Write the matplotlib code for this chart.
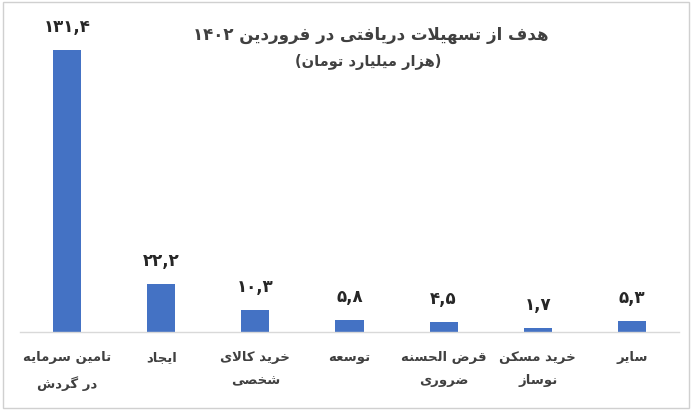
import matplotlib
matplotlib.use("Agg")
import matplotlib.pyplot as plt
from matplotlib.patches import Rectangle

# ---------------- data ----------------
title = "هدف از تسهیلات دریافتی در فروردین ۱۴۰۲"
subtitle = "(هزار میلیارد تومان)"
categories = ["تامین سرمایه\nدر گردش", "ایجاد", "خرید کالای\nشخصی", "توسعه",
              "قرض الحسنه\nضروری", "خرید مسکن\nنوساز", "سایر"]
values = [131.4, 22.2, 10.3, 5.8, 4.5, 1.7, 5.3]
value_labels = ["۱۳۱,۴", "۲۲,۲", "۱۰,۳", "۵,۸", "۴,۵", "۱,۷", "۵,۳"]

# ------------- minimal Arabic/Persian shaping -------------
# (isolated, final, initial, medial); None for initial/medial => right-joining only
FORMS = {
    '\u0627': (0xFE8D, 0xFE8E, None, None),
    '\u0628': (0xFE8F, 0xFE90, 0xFE91, 0xFE92),
    '\u0629': (0xFE93, 0xFE94, None, None),
    '\u062A': (0xFE95, 0xFE96, 0xFE97, 0xFE98),
    '\u062B': (0xFE99, 0xFE9A, 0xFE9B, 0xFE9C),
    '\u062C': (0xFE9D, 0xFE9E, 0xFE9F, 0xFEA0),
    '\u062D': (0xFEA1, 0xFEA2, 0xFEA3, 0xFEA4),
    '\u062E': (0xFEA5, 0xFEA6, 0xFEA7, 0xFEA8),
    '\u062F': (0xFEA9, 0xFEAA, None, None),
    '\u0630': (0xFEAB, 0xFEAC, None, None),
    '\u0631': (0xFEAD, 0xFEAE, None, None),
    '\u0632': (0xFEAF, 0xFEB0, None, None),
    '\u0633': (0xFEB1, 0xFEB2, 0xFEB3, 0xFEB4),
    '\u0634': (0xFEB5, 0xFEB6, 0xFEB7, 0xFEB8),
    '\u0635': (0xFEB9, 0xFEBA, 0xFEBB, 0xFEBC),
    '\u0636': (0xFEBD, 0xFEBE, 0xFEBF, 0xFEC0),
    '\u0637': (0xFEC1, 0xFEC2, 0xFEC3, 0xFEC4),
    '\u0638': (0xFEC5, 0xFEC6, 0xFEC7, 0xFEC8),
    '\u0639': (0xFEC9, 0xFECA, 0xFECB, 0xFECC),
    '\u063A': (0xFECD, 0xFECE, 0xFECF, 0xFED0),
    '\u0641': (0xFED1, 0xFED2, 0xFED3, 0xFED4),
    '\u0642': (0xFED5, 0xFED6, 0xFED7, 0xFED8),
    '\u0643': (0xFED9, 0xFEDA, 0xFEDB, 0xFEDC),
    '\u0644': (0xFEDD, 0xFEDE, 0xFEDF, 0xFEE0),
    '\u0645': (0xFEE1, 0xFEE2, 0xFEE3, 0xFEE4),
    '\u0646': (0xFEE5, 0xFEE6, 0xFEE7, 0xFEE8),
    '\u0647': (0xFEE9, 0xFEEA, 0xFEEB, 0xFEEC),
    '\u0648': (0xFEED, 0xFEEE, None, None),
    '\u0649': (0xFEEF, 0xFEF0, None, None),
    '\u064A': (0xFEF1, 0xFEF2, 0xFEF3, 0xFEF4),
    '\u067E': (0xFB56, 0xFB57, 0xFB58, 0xFB59),
    '\u0686': (0xFB7A, 0xFB7B, 0xFB7C, 0xFB7D),
    '\u0698': (0xFB8A, 0xFB8B, None, None),
    '\u06A9': (0xFB8E, 0xFB8F, 0xFB90, 0xFB91),
    '\u06AF': (0xFB92, 0xFB93, 0xFB94, 0xFB95),
    '\u06CC': (0xFBFC, 0xFBFD, 0xFBFE, 0xFBFF),
}


def dual(c):
    return c in FORMS and FORMS[c][2] is not None


def shape(s):
    out = []
    i = 0
    n = len(s)
    while i < n:
        c = s[i]
        if c not in FORMS:
            out.append(c)
            i += 1
            continue
        prev = s[i - 1] if i > 0 else ''
        jp = dual(prev)
        if c == '\u0644' and i + 1 < n and s[i + 1] == '\u0627':
            out.append(chr(0xFEFC if jp else 0xFEFB))
            i += 2
            continue
        nxt = s[i + 1] if i + 1 < n else ''
        jn = dual(c) and nxt in FORMS
        f = FORMS[c]
        if jp and jn:
            code = f[3]
        elif jp:
            code = f[1]
        elif jn:
            code = f[2]
        else:
            code = f[0]
        out.append(chr(code))
        i += 1
    return ''.join(out)


MIRROR = {'(': ')', ')': '('}


def is_num(c):
    return c.isdigit() or c in ',.'


def visual(s):
    lines = []
    for line in s.split('\n'):
        sh = shape(line)
        runs = []
        for c in sh:
            num = is_num(c)
            if runs and runs[-1][0] == num:
                runs[-1][1].append(c)
            else:
                runs.append([num, [c]])
        res = []
        for num, chars in reversed(runs):
            if num:
                res.extend(chars)
            else:
                res.extend(MIRROR.get(c, c) for c in reversed(chars))
        lines.append(''.join(res))
    return '\n'.join(lines)


# ---------------- figure ----------------
plt.rcParams['font.family'] = ['DejaVu Sans']
W, H = 700, 411
fig = plt.figure(figsize=(W / 100, H / 100), dpi=100)
fig.patch.set_facecolor('white')

# chart-area border
fig.patches.append(Rectangle((3 / W, 3 / H), 686 / W, 406 / H, transform=fig.transFigure,
                             fill=False, edgecolor='#D0D0D0', linewidth=1.0))

ymax = 140
base_px = 332
ax_h = ymax * 282 / 131.4
ax = fig.add_axes([20 / W, (H - base_px) / H, 659 / W, ax_h / H])
x = list(range(len(values)))
ax.bar(x, values, width=0.3, color='#4472C4', zorder=2)
ax.set_xlim(-0.5, len(values) - 0.5)
ax.set_ylim(0, ymax)
for s in ['top', 'right', 'left']:
    ax.spines[s].set_visible(False)
ax.spines['bottom'].set_color('#D9D9D9')
ax.spines['bottom'].set_linewidth(1.0)
ax.set_yticks([])
ax.set_xticks(x)
ax.set_xticklabels([visual(c) for c in categories], fontsize=9.5, color='#404040',
                   fontweight='bold', linespacing=2.0)
ax.tick_params(axis='x', length=0, pad=14)
ax.patch.set_alpha(0)

for xi, v, lab in zip(x, values, value_labels):
    ax.annotate(lab, (xi, v), xytext=(0, 10), textcoords='offset points',
                ha='center', va='bottom', fontsize=12, fontweight='bold', color='#262626')

fig.text(371 / W, 1 - 35 / H, visual(title), ha='center', va='center',
         fontsize=12, fontweight='bold', color='#404040')
fig.text(368 / W, 1 - 62 / H, visual(subtitle), ha='center', va='center',
         fontsize=10.5, fontweight='bold', color='#404040')

fig.savefig('out.png', dpi=100, facecolor='white')
